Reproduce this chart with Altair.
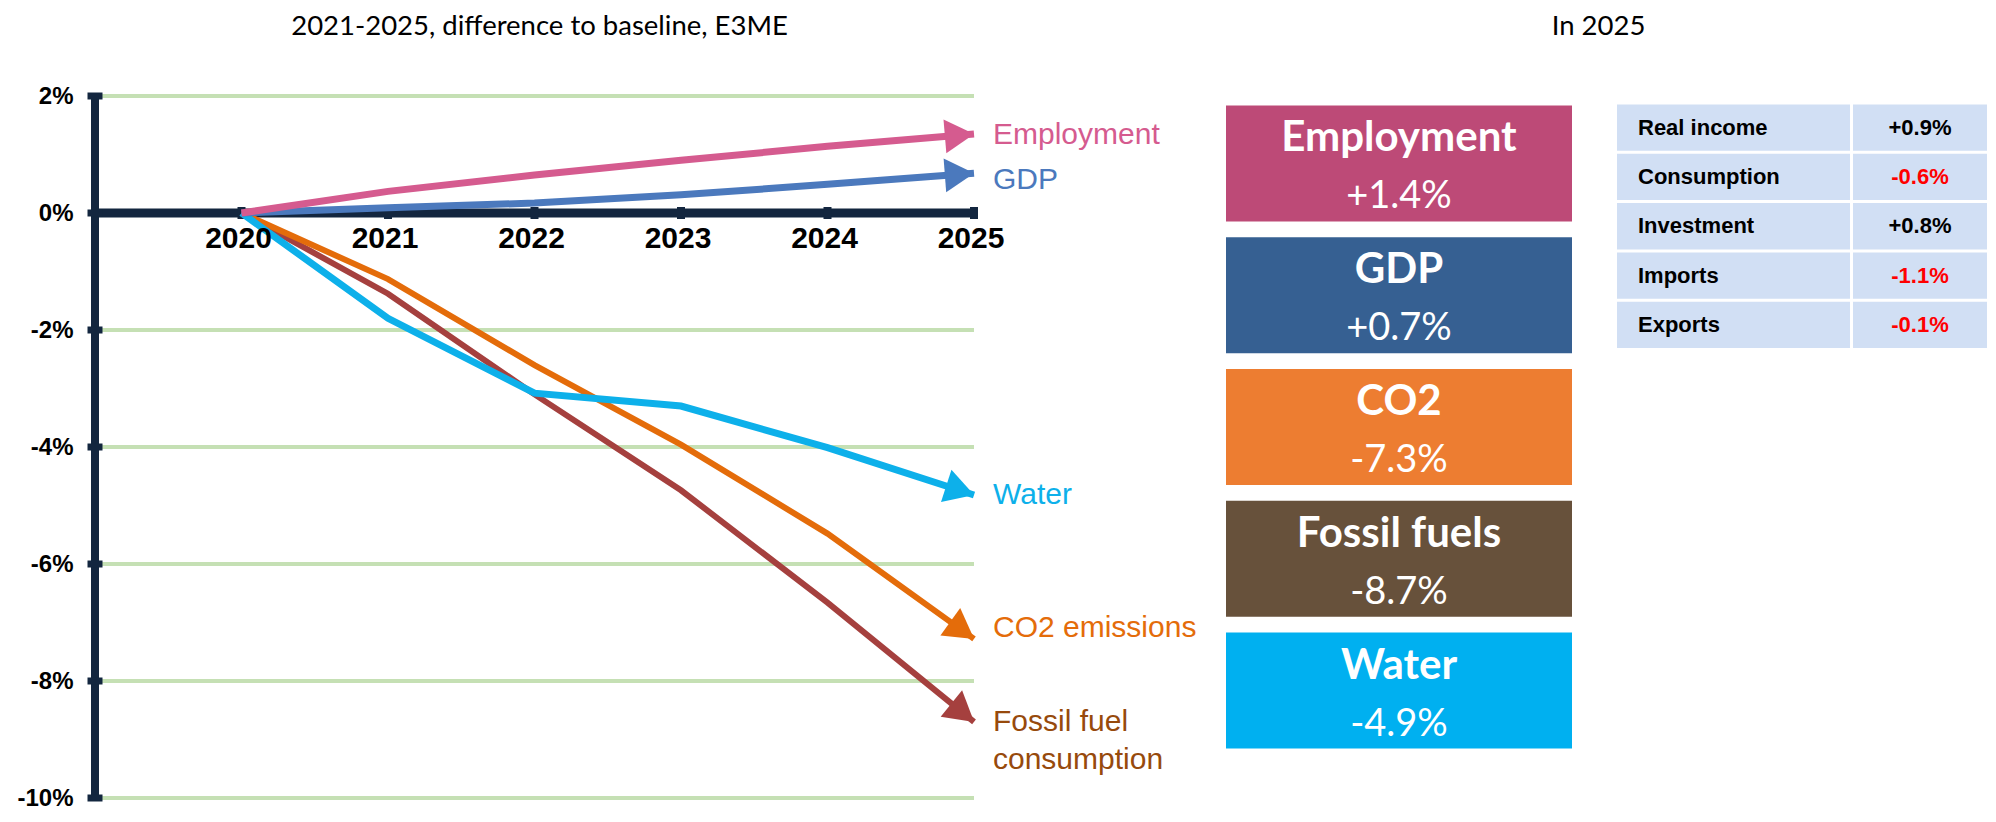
import math
import altair as alt
import pandas as pd

# ---------------- data ----------------
years = [2020, 2021, 2022, 2023, 2024, 2025]
employment = [0.0, 0.37, 0.65, 0.90, 1.14, 1.35]
gdp = [0.0, 0.09, 0.17, 0.31, 0.49, 0.68]
water = [0.0, -1.80, -3.08, -3.30, -4.01, -4.82]
co2 = [0.0, -1.13, -2.60, -3.96, -5.48, -7.28]
fossil = [0.0, -1.38, -3.10, -4.74, -6.66, -8.70]

series_names = ["Fossil fuel consumption", "CO2 emissions", "Water", "GDP", "Employment"]
series_values = [fossil, co2, water, gdp, employment]
series_labels = ["Fossil fuel\nconsumption", "CO2 emissions", "Water", "GDP", "Employment"]

y_ticks = [2, 0, -2, -4, -6, -8, -10]
grid_values = [2, -2, -4, -6, -8, -10]

box_names = ["Employment", "GDP", "CO2", "Fossil fuels", "Water"]
box_values = [1.4, 0.7, -7.3, -8.7, -4.9]

table_rows = ["Real income", "Consumption", "Investment", "Imports", "Exports"]
table_values = [0.9, -0.6, 0.8, -1.1, -0.1]

left_title = "2021-2025, difference to baseline, E3ME"
right_title = "In 2025"

# ---------------- styles ----------------
line_colors = ["#a5403e", "#e46c0a", "#0db0ea", "#4b79bd", "#d55b8f"]
label_colors = ["#974a0c", "#e46c0a", "#0db0ea", "#4b79bd", "#d55b8f"]
line_widths = [6, 6, 7, 7, 7]
label_dy = [0, -11, 0, 7, 1]
box_colors = ["#bd4a77", "#366092", "#ed7d31", "#67513b", "#00b0f0"]
NAVY = "#13263f"
GRID = "#c5e0b4"
TABLE_FILL = "#d1dff4"

W_L = 1131
H_L = 702
YEAR_PX = 146.5
x_min = years[0] - 1
x_max = x_min + W_L / YEAR_PX
y_min, y_max = -10, 2
PX_PER_PCT = H_L / (y_max - y_min)

xs = alt.Scale(domain=[x_min, x_max], nice=False, zero=False)
ys = alt.Scale(domain=[y_min, y_max], nice=False, zero=False)
yaxis = alt.Axis(values=y_ticks, labelExpr="datum.value + '%'", domain=False, ticks=False,
                 grid=False, labelFont="Liberation Sans", labelFontSize=24, labelFontWeight="bold",
                 labelColor="black", labelPadding=22, minExtent=82, maxExtent=82, title=None)


def X(f):
    return alt.X(f, scale=xs, axis=None)


def Y(f):
    return alt.Y(f, scale=ys, axis=yaxis)


layers = []

grid_df = pd.DataFrame({"y": grid_values, "x0": x_min, "x1": years[-1]})
layers.append(alt.Chart(grid_df).mark_rule(color=GRID, strokeWidth=4).encode(
    x=X("x0:Q"), x2="x1:Q", y=Y("y:Q")))

yax_df = pd.DataFrame({"x": [x_min], "y0": [y_min], "y1": [y_max]})
layers.append(alt.Chart(yax_df).mark_rule(color=NAVY, strokeWidth=8).encode(
    x=X("x:Q"), y=Y("y0:Q"), y2="y1:Q"))

xax_df = pd.DataFrame({"x0": [x_min], "x1": [years[-1]], "y": [0]})
layers.append(alt.Chart(xax_df).mark_rule(color=NAVY, strokeWidth=9).encode(
    x=X("x0:Q"), x2="x1:Q", y=Y("y:Q")))

ytick_df = pd.DataFrame({"x": x_min, "y": y_ticks})
layers.append(alt.Chart(ytick_df).mark_tick(orient="horizontal", size=15, thickness=7, color=NAVY, opacity=1).encode(
    x=X("x:Q"), y=Y("y:Q")))

xtick_df = pd.DataFrame({"x": years, "y": 0})
layers.append(alt.Chart(xtick_df).mark_tick(orient="vertical", size=12, thickness=8, color=NAVY, opacity=1).encode(
    x=X("x:Q"), y=Y("y:Q")))

arrow_rows = []
for name, vals, col, lw in zip(series_names, series_values, line_colors, line_widths):
    df = pd.DataFrame({"year": years, "value": vals})
    layers.append(alt.Chart(df).mark_line(color=col, strokeWidth=lw).encode(
        x=X("year:Q"), y=Y("value:Q")))
    dv = vals[-1] - vals[-2]
    dxp, dyp = YEAR_PX, -dv * PX_PER_PCT
    seg = math.hypot(dxp, dyp)
    t = 14.5 / seg
    ang = math.degrees(math.atan2(dyp, dxp)) % 360
    arrow_rows.append({"x": years[-1] - t, "y": vals[-1] - t * dv, "angle": ang, "col": col})

arrow_df = pd.DataFrame(arrow_rows)
layers.append(alt.Chart(arrow_df).mark_point(shape="triangle-right", filled=True, size=1150, opacity=1).encode(
    x=X("x:Q"), y=Y("y:Q"), angle=alt.Angle("angle:Q", scale=None),
    color=alt.Color("col:N", scale=None)))

for name, vals, lab, col, dy in zip(series_names, series_values, series_labels, label_colors, label_dy):
    df = pd.DataFrame({"x": [years[-1]], "y": [vals[-1]], "label": [lab]})
    layers.append(alt.Chart(df).mark_text(align="left", baseline="middle", dx=19, dy=dy, font="Liberation Sans",
                                          fontSize=30, color=col, lineBreak="\n", lineHeight=38).encode(
        x=X("x:Q"), y=Y("y:Q"), text="label:N"))

yl_df = pd.DataFrame({"x": years, "y": 0, "label": [str(y) for y in years]})
layers.append(alt.Chart(yl_df).mark_text(baseline="middle", dy=26, dx=-3, font="Liberation Sans", fontSize=30,
                                         fontWeight="bold", color="black").encode(
    x=X("x:Q"), y=Y("y:Q"), text="label:N"))

left = alt.layer(*layers).properties(
    width=W_L, height=H_L,
    title=alt.TitleParams(left_title, font="Lato", fontSize=27.5, fontWeight="normal", color="black",
                          anchor="middle", frame="group", dx=-121, offset=44))

# ---------------- boxes ----------------
BW, BH = 346, 662
box_df = pd.DataFrame({"name": box_names, "value": [f"{v:+.1f}%" for v in box_values], "col": box_colors})
yb = alt.Y("name:N", sort=box_names, scale=alt.Scale(domain=box_names, paddingInner=0.12, paddingOuter=0.072),
           axis=None)
b_rect = alt.Chart(box_df).mark_rect().encode(
    x=alt.value(0), x2=alt.value(BW), y=yb, color=alt.Color("col:N", scale=None))
b_title = alt.Chart(box_df).mark_text(font="Lato", fontSize=42, fontWeight="bold", color="white",
                                      baseline="alphabetic", dy=-12).encode(x=alt.value(BW / 2), y=yb, text="name:N")
b_val = alt.Chart(box_df).mark_text(font="Lato", fontSize=38, fontWeight="normal", color="white",
                                    baseline="alphabetic", dy=45).encode(x=alt.value(BW / 2), y=yb, text="value:N")
boxes = alt.layer(b_rect, b_title, b_val).properties(width=BW, height=BH)

# ---------------- table ----------------
TW, TH = 370, 260.5
C1 = 233
tbl_df = pd.DataFrame({"row": table_rows, "v": table_values, "txt": [f"{v:+.1f}%" for v in table_values]})
yt = alt.Y("row:N", sort=table_rows, scale=alt.Scale(domain=table_rows, paddingInner=0.06, paddingOuter=0.172),
           axis=None)
t_r1 = alt.Chart(tbl_df).mark_rect(color=TABLE_FILL).encode(x=alt.value(0), x2=alt.value(C1), y=yt)
t_r2 = alt.Chart(tbl_df).mark_rect(color=TABLE_FILL).encode(x=alt.value(C1 + 3), x2=alt.value(TW), y=yt)
t_l = alt.Chart(tbl_df).mark_text(align="left", baseline="middle", font="Liberation Sans", fontSize=22,
                                  fontWeight="bold", color="black").encode(x=alt.value(21), y=yt, text="row:N")
t_v = alt.Chart(tbl_df).mark_text(align="center", baseline="middle", font="Liberation Sans", fontSize=22,
                                  fontWeight="bold").encode(
    x=alt.value((C1 + 3 + TW) / 2), y=yt, text="txt:N",
    color=alt.condition(alt.datum.v < 0, alt.value("#ff0000"), alt.value("black")))
table = alt.layer(t_r1, t_r2, t_l, t_v).properties(width=TW, height=TH)

right = alt.hconcat(boxes, table, spacing=45).properties(
    title=alt.TitleParams(right_title, font="Lato", fontSize=27.5, fontWeight="normal", color="black",
                          anchor="middle", frame="bounds", dx=-8, offset=56))

chart = alt.hconcat(left, right, spacing=0).properties(
    padding={"left": 5, "top": 4, "right": 0, "bottom": 0},
    background="white"
).configure_view(stroke=None)

chart.save("out.html", embed_options={"renderer": "svg", "actions": False})
